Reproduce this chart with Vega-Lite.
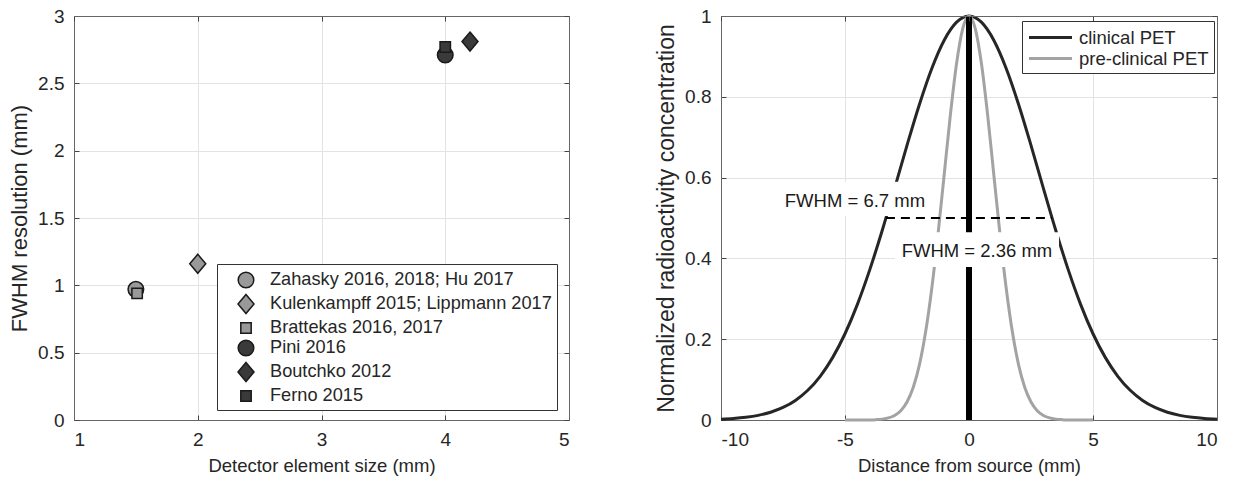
{
  "$schema": "https://vega.github.io/schema/vega-lite/v6.json",
  "background": "white",
  "padding": {"left": 8, "top": 7, "right": 5, "bottom": 3},
  "spacing": 85,
  "config": {
    "font": "Liberation Sans",
    "view": {"stroke": null},
    "axis": {
      "labelFont": "Liberation Sans", "labelFontSize": 19, "labelColor": "#262626",
      "titleFont": "Liberation Sans", "titleFontWeight": "normal", "titleColor": "#262626",
      "gridColor": "#e3e3e3", "gridWidth": 1, "domainColor": "#666666", "tickColor": "#444444",
      "tickSize": -5, "labelPadding": 15
    },
    "axisX": {"titleFontSize": 18.5, "titlePadding": 7},
    "axisY": {"titleFontSize": 22, "titlePadding": 6},
    "legend": {"labelFont": "Liberation Sans", "labelColor": "#262626", "labelLimit": 400}
  },
  "hconcat": [
    {
      "width": 495,
      "height": 404,
      "data": {"values": [
        {"study": "Zahasky 2016, 2018; Hu 2017", "element": 1.5, "fwhm": 0.97},
        {"study": "Kulenkampff 2015; Lippmann 2017", "element": 2.0, "fwhm": 1.16},
        {"study": "Brattekas 2016, 2017", "element": 1.51, "fwhm": 0.94},
        {"study": "Pini 2016", "element": 4.0, "fwhm": 2.71},
        {"study": "Boutchko 2012", "element": 4.2, "fwhm": 2.81},
        {"study": "Ferno 2015", "element": 4.0, "fwhm": 2.77}
      ]},
      "layer": [
        {
          "mark": {"type": "point", "filled": true, "opacity": 1, "size": 400, "strokeWidth": 1.5},
          "encoding": {
            "x": {"field": "element", "type": "quantitative",
                  "scale": {"domain": [1, 5], "nice": false, "zero": false},
                  "axis": {"title": "Detector element size (mm)", "values": [1, 2, 3, 4, 5], "labelExpr": "'' + datum.value"}},
            "y": {"field": "fwhm", "type": "quantitative",
                  "scale": {"domain": [0, 3], "nice": false},
                  "axis": {"title": "FWHM resolution (mm)", "values": [0, 0.5, 1, 1.5, 2, 2.5, 3], "labelExpr": "'' + datum.value"}},
            "shape": {"field": "study", "type": "nominal",
                      "scale": {"domain": ["Zahasky 2016, 2018; Hu 2017", "Kulenkampff 2015; Lippmann 2017", "Brattekas 2016, 2017", "Pini 2016", "Boutchko 2012", "Ferno 2015"],
                                "range": ["M-0.78,0A0.78,0.78,0,1,0,0.78,0A0.78,0.78,0,1,0,-0.78,0Z", "M0,-0.95L0.8,0L0,0.95L-0.8,0Z", "M-0.52,-0.52L0.52,-0.52L0.52,0.52L-0.52,0.52Z", "M-0.78,0A0.78,0.78,0,1,0,0.78,0A0.78,0.78,0,1,0,-0.78,0Z", "M0,-0.95L0.8,0L0,0.95L-0.8,0Z", "M-0.52,-0.52L0.52,-0.52L0.52,0.52L-0.52,0.52Z"]},
                      "legend": {"title": null, "orient": "none", "legendX": 143, "legendY": 248, "strokeColor": "#333333", "fillColor": "white", "padding": 5, "symbolOffset": 13, "labelOffset": 13, "rowPadding": 0, "symbolSize": 400, "symbolStrokeWidth": 1.5, "labelFontSize": 18.2, "labelLimit": 400}},
            "fill": {"field": "study", "type": "nominal",
                     "scale": {"domain": ["Zahasky 2016, 2018; Hu 2017", "Kulenkampff 2015; Lippmann 2017", "Brattekas 2016, 2017", "Pini 2016", "Boutchko 2012", "Ferno 2015"],
                               "range": ["#999999", "#999999", "#999999", "#3a3a3a", "#3a3a3a", "#3a3a3a"]},
                     "legend": {"title": null, "orient": "none", "legendX": 143, "legendY": 248, "strokeColor": "#333333", "fillColor": "white", "padding": 5, "symbolOffset": 13, "labelOffset": 13, "rowPadding": 0, "symbolSize": 400, "symbolStrokeWidth": 1.5, "labelFontSize": 18.2, "labelLimit": 400}},
            "stroke": {"field": "study", "type": "nominal",
                       "scale": {"domain": ["Zahasky 2016, 2018; Hu 2017", "Kulenkampff 2015; Lippmann 2017", "Brattekas 2016, 2017", "Pini 2016", "Boutchko 2012", "Ferno 2015"],
                                 "range": ["#1a1a1a", "#1a1a1a", "#1a1a1a", "#1a1a1a", "#1a1a1a", "#1a1a1a"]},
                       "legend": {"title": null, "orient": "none", "legendX": 143, "legendY": 248, "strokeColor": "#333333", "fillColor": "white", "padding": 5, "symbolOffset": 13, "labelOffset": 13, "rowPadding": 0, "symbolSize": 400, "symbolStrokeWidth": 1.5, "labelFontSize": 18.2, "labelLimit": 400}}
          }
        },
        {
          "mark": {"type": "point", "opacity": 0},
          "encoding": {
            "x": {"field": "element", "type": "quantitative",
                  "axis": {"orient": "top", "labels": false, "title": null, "grid": false, "values": [1, 2, 3, 4, 5], "zindex": 1}},
            "y": {"field": "fwhm", "type": "quantitative",
                  "axis": {"orient": "right", "labels": false, "title": null, "grid": false, "values": [0, 0.5, 1, 1.5, 2, 2.5, 3], "zindex": 1}}
          }
        }
      ],
      "resolve": {"axis": {"x": "independent", "y": "independent"}}
    },
    {
      "width": 496,
      "height": 404,
      "layer": [
        {
          "data": {"values": [
            {"s": "clinical PET", "x": -10, "y": 0.0021}, {"s": "clinical PET", "x": -9.5, "y": 0.0038},
            {"s": "clinical PET", "x": -9, "y": 0.0067}, {"s": "clinical PET", "x": -8.5, "y": 0.0115},
            {"s": "clinical PET", "x": -8, "y": 0.0192}, {"s": "clinical PET", "x": -7.5, "y": 0.031},
            {"s": "clinical PET", "x": -7, "y": 0.0485}, {"s": "clinical PET", "x": -6.5, "y": 0.0736},
            {"s": "clinical PET", "x": -6, "y": 0.1082}, {"s": "clinical PET", "x": -5.5, "y": 0.1544},
            {"s": "clinical PET", "x": -5, "y": 0.2135}, {"s": "clinical PET", "x": -4.5, "y": 0.2863},
            {"s": "clinical PET", "x": -4, "y": 0.3722}, {"s": "clinical PET", "x": -3.5, "y": 0.4692},
            {"s": "clinical PET", "x": -3, "y": 0.5735}, {"s": "clinical PET", "x": -2.5, "y": 0.6798},
            {"s": "clinical PET", "x": -2, "y": 0.7811}, {"s": "clinical PET", "x": -1.5, "y": 0.8702},
            {"s": "clinical PET", "x": -1, "y": 0.9401}, {"s": "clinical PET", "x": -0.5, "y": 0.9847},
            {"s": "clinical PET", "x": 0, "y": 1},
            {"s": "clinical PET", "x": 0.5, "y": 0.9847}, {"s": "clinical PET", "x": 1, "y": 0.9401},
            {"s": "clinical PET", "x": 1.5, "y": 0.8702}, {"s": "clinical PET", "x": 2, "y": 0.7811},
            {"s": "clinical PET", "x": 2.5, "y": 0.6798}, {"s": "clinical PET", "x": 3, "y": 0.5735},
            {"s": "clinical PET", "x": 3.5, "y": 0.4692}, {"s": "clinical PET", "x": 4, "y": 0.3722},
            {"s": "clinical PET", "x": 4.5, "y": 0.2863}, {"s": "clinical PET", "x": 5, "y": 0.2135},
            {"s": "clinical PET", "x": 5.5, "y": 0.1544}, {"s": "clinical PET", "x": 6, "y": 0.1082},
            {"s": "clinical PET", "x": 6.5, "y": 0.0736}, {"s": "clinical PET", "x": 7, "y": 0.0485},
            {"s": "clinical PET", "x": 7.5, "y": 0.031}, {"s": "clinical PET", "x": 8, "y": 0.0192},
            {"s": "clinical PET", "x": 8.5, "y": 0.0115}, {"s": "clinical PET", "x": 9, "y": 0.0067},
            {"s": "clinical PET", "x": 9.5, "y": 0.0038}, {"s": "clinical PET", "x": 10, "y": 0.0021},
            {"s": "pre-clinical PET", "x": -5, "y": 0}, {"s": "pre-clinical PET", "x": -4.5, "y": 0},
            {"s": "pre-clinical PET", "x": -4, "y": 0.0003}, {"s": "pre-clinical PET", "x": -3.75, "y": 0.0009},
            {"s": "pre-clinical PET", "x": -3.5, "y": 0.0022}, {"s": "pre-clinical PET", "x": -3.25, "y": 0.0052},
            {"s": "pre-clinical PET", "x": -3, "y": 0.0113}, {"s": "pre-clinical PET", "x": -2.75, "y": 0.0231},
            {"s": "pre-clinical PET", "x": -2.5, "y": 0.0445}, {"s": "pre-clinical PET", "x": -2.25, "y": 0.0803},
            {"s": "pre-clinical PET", "x": -2, "y": 0.1364}, {"s": "pre-clinical PET", "x": -1.75, "y": 0.2176},
            {"s": "pre-clinical PET", "x": -1.5, "y": 0.3261}, {"s": "pre-clinical PET", "x": -1.25, "y": 0.4593},
            {"s": "pre-clinical PET", "x": -1, "y": 0.6077}, {"s": "pre-clinical PET", "x": -0.75, "y": 0.7557},
            {"s": "pre-clinical PET", "x": -0.5, "y": 0.8829}, {"s": "pre-clinical PET", "x": -0.25, "y": 0.9694},
            {"s": "pre-clinical PET", "x": 0, "y": 1},
            {"s": "pre-clinical PET", "x": 0.25, "y": 0.9694}, {"s": "pre-clinical PET", "x": 0.5, "y": 0.8829},
            {"s": "pre-clinical PET", "x": 0.75, "y": 0.7557}, {"s": "pre-clinical PET", "x": 1, "y": 0.6077},
            {"s": "pre-clinical PET", "x": 1.25, "y": 0.4593}, {"s": "pre-clinical PET", "x": 1.5, "y": 0.3261},
            {"s": "pre-clinical PET", "x": 1.75, "y": 0.2176}, {"s": "pre-clinical PET", "x": 2, "y": 0.1364},
            {"s": "pre-clinical PET", "x": 2.25, "y": 0.0803}, {"s": "pre-clinical PET", "x": 2.5, "y": 0.0445},
            {"s": "pre-clinical PET", "x": 2.75, "y": 0.0231}, {"s": "pre-clinical PET", "x": 3, "y": 0.0113},
            {"s": "pre-clinical PET", "x": 3.25, "y": 0.0052}, {"s": "pre-clinical PET", "x": 3.5, "y": 0.0022},
            {"s": "pre-clinical PET", "x": 3.75, "y": 0.0009}, {"s": "pre-clinical PET", "x": 4, "y": 0.0003},
            {"s": "pre-clinical PET", "x": 4.5, "y": 0}, {"s": "pre-clinical PET", "x": 5, "y": 0}
          ]},
          "mark": {"type": "line", "strokeWidth": 3, "interpolate": "monotone"},
          "encoding": {
            "x": {"field": "x", "type": "quantitative",
                  "scale": {"domain": [-10, 10], "nice": false, "zero": false},
                  "axis": {"title": "Distance from source (mm)", "values": [-10, -5, 0, 5, 10], "labelExpr": "'' + datum.value"}},
            "y": {"field": "y", "type": "quantitative",
                  "scale": {"domain": [0, 1], "nice": false},
                  "axis": {"title": "Normalized radioactivity concentration", "titleFontSize": 23, "values": [0, 0.2, 0.4, 0.6, 0.8, 1], "labelExpr": "'' + datum.value"}},
            "color": {"field": "s", "type": "nominal",
                      "scale": {"domain": ["clinical PET", "pre-clinical PET"], "range": ["#262626", "#a3a3a3"]},
                      "legend": {"title": null, "orient": "none", "legendX": 948, "legendY": 5, "strokeColor": "#333333", "fillColor": "white", "padding": 5, "symbolType": "M-2.15,0L2.15,0", "symbolSize": 400, "symbolStrokeWidth": 3, "symbolOffset": 12, "labelOffset": 17, "rowPadding": 0, "labelFontSize": 18.5, "labelLimit": 400}}
          }
        },
        {
          "data": {"values": [{"x": 0, "y": 0, "y2": 1}]},
          "mark": {"type": "rule", "color": "black", "strokeWidth": 6},
          "encoding": {
            "x": {"field": "x", "type": "quantitative", "axis": null},
            "y": {"field": "y", "type": "quantitative", "axis": null},
            "y2": {"field": "y2"}
          }
        },
        {
          "data": {"values": [{"x": -3.35, "x2": 3.35, "y": 0.5}]},
          "mark": {"type": "rule", "color": "black", "strokeWidth": 1.8, "strokeDash": [9, 6]},
          "encoding": {
            "x": {"field": "x", "type": "quantitative", "axis": null},
            "x2": {"field": "x2"},
            "y": {"field": "y", "type": "quantitative", "axis": null}
          }
        },
        {
          "data": {"values": [
            {"x": -7.75, "x2": -1.6, "y": 0.505, "y2": 0.59},
            {"x": -2.98, "x2": 3.63, "y": 0.379, "y2": 0.465}
          ]},
          "mark": {"type": "rect", "fill": "white"},
          "encoding": {
            "x": {"field": "x", "type": "quantitative", "axis": null},
            "x2": {"field": "x2"},
            "y": {"field": "y", "type": "quantitative", "axis": null},
            "y2": {"field": "y2"}
          }
        },
        {
          "data": {"values": [
            {"x": -4.6, "y": 0.542, "t": "FWHM = 6.7 mm"},
            {"x": 0.32, "y": 0.418, "t": "FWHM = 2.36 mm"}
          ]},
          "mark": {"type": "text", "fontSize": 18.5, "align": "center", "baseline": "middle", "color": "#1a1a1a", "font": "Liberation Sans"},
          "encoding": {
            "x": {"field": "x", "type": "quantitative", "axis": null},
            "y": {"field": "y", "type": "quantitative", "axis": null},
            "text": {"field": "t"}
          }
        },
        {
          "data": {"values": [{"x": 0, "y": 0}]},
          "mark": {"type": "point", "opacity": 0},
          "encoding": {
            "x": {"field": "x", "type": "quantitative",
                  "axis": {"orient": "top", "labels": false, "title": null, "grid": false, "values": [-10, -5, 0, 5, 10], "zindex": 1}},
            "y": {"field": "y", "type": "quantitative",
                  "axis": {"orient": "right", "labels": false, "title": null, "grid": false, "values": [0, 0.2, 0.4, 0.6, 0.8, 1], "zindex": 1}}
          }
        }
      ],
      "resolve": {"axis": {"x": "independent", "y": "independent"}}
    }
  ]
}
